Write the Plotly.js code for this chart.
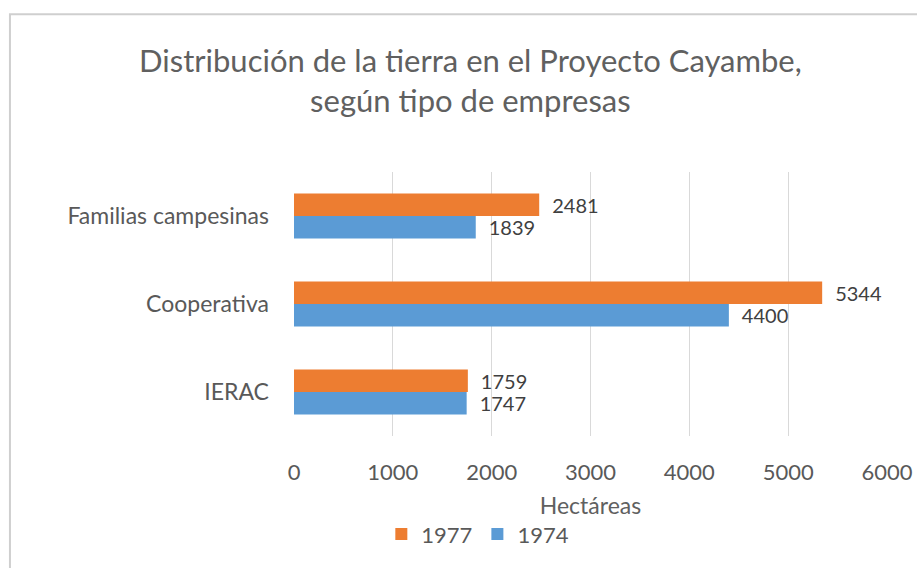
<!DOCTYPE html>
<html>
<head>
<meta charset="utf-8">
<script src="https://cdn.plot.ly/plotly-3.0.1.min.js"></script>
<style>html,body{margin:0;padding:0;background:#fff;}#chart{width:917px;height:568px;}</style>
</head>
<body>
<div id="chart"></div>
<script>
const categories = ["IERAC", "Cooperativa", "Familias campesinas"];
const values1974 = [1747, 4400, 1839];
const values1977 = [1759, 5344, 2481];
const seriesNames = ["1974", "1977"];
const xTicks = [0, 1000, 2000, 3000, 4000, 5000, 6000];

const FONT = "Lato, 'Open Sans', sans-serif";
const LABEL_PAD = "\u2002";

const traces = [
  {
    type: "bar", orientation: "h", name: seriesNames[0],
    y: categories, x: values1974,
    marker: {color: "#5B9BD5"},
    text: values1974.map(v => LABEL_PAD + v), textposition: "outside", cliponaxis: false,
    constraintext: "none",
    textfont: {family: FONT, size: 20, color: "#404040"}
  },
  {
    type: "bar", orientation: "h", name: seriesNames[1],
    y: categories, x: values1977,
    marker: {color: "#ED7D31"},
    text: values1977.map(v => LABEL_PAD + v), textposition: "outside", cliponaxis: false,
    constraintext: "none",
    textfont: {family: FONT, size: 20, color: "#404040"}
  }
];

const layout = {
  width: 917, height: 568,
  margin: {l: 294, r: 30, t: 172, b: 132, pad: 0},
  paper_bgcolor: "#fff", plot_bgcolor: "#fff",
  font: {family: FONT, color: "#595959"},
  title: {
    text: "Distribución de la tierra en el Proyecto Cayambe,<br>según tipo de empresas",
    font: {family: FONT, size: 31, color: "#606060"},
    x: 0.513, xanchor: "center", y: 0.873, yanchor: "middle"
  },
  barmode: "group", bargap: 0.49, bargroupgap: 0,
  xaxis: {
    range: [0, 6000], tickvals: xTicks, ticktext: xTicks.map(String),
    showgrid: true, gridcolor: "#d9d9d9", gridwidth: 1,
    zeroline: false, showline: false, ticks: "",
    ticklabelstandoff: 21,
    tickfont: {family: FONT, size: 22, color: "#595959"},
    title: {text: "Hectáreas", font: {family: FONT, size: 23, color: "#606060"}, standoff: 13}
  },
  yaxis: {
    showgrid: false, zeroline: false, showline: false, ticks: "",
    ticklabelstandoff: 24,
    tickfont: {family: FONT, size: 23, color: "#595959"}
  },
  showlegend: true,
  legend: {
    orientation: "h", traceorder: "reversed",
    x: 0.31, xanchor: "center", y: -0.372, yanchor: "middle",
    font: {family: FONT, size: 22, color: "#595959"},
    itemwidth: 30
  },
  shapes: [{
    type: "rect", xref: "paper", yref: "paper",
    x0: -0.479, x1: 1.3, y0: -0.7, y1: 1.598,
    line: {color: "#cfcfcf", width: 2}, fillcolor: "rgba(0,0,0,0)", layer: "below"
  }]
};

Plotly.newPlot("chart", traces, layout, {displayModeBar: false, staticPlot: true});
</script>
</body>
</html>
